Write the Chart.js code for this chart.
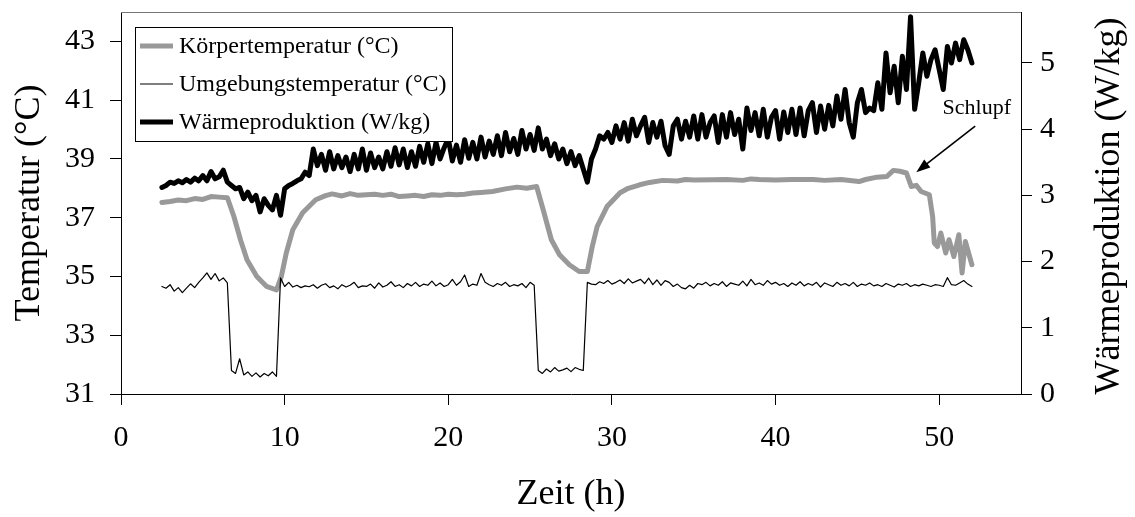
<!DOCTYPE html>
<html>
<head>
<meta charset="utf-8">
<script src="https://cdn.jsdelivr.net/npm/chart.js@4.4.0/dist/chart.umd.min.js"></script>
<style>
  html, body { margin: 0; padding: 0; background: #fff; }
  #chart { display: block; }
</style>
</head>
<body>
<canvas id="chart" width="1135" height="517"></canvas>
<script>
// sample grid of the logger: every 15 min from 2.5 h
const sampleStart = 2.5, sampleStep = 0.25;

// Wärmeproduktion (W/kg), right axis
const heatValues = [
  3.12, 3.15,
  3.20, 3.18, 3.22, 3.19,
  3.24, 3.20, 3.26, 3.22,
  3.30, 3.22, 3.36, 3.25,
  3.28, 3.38, 3.20, 3.15,
  3.10, 3.12, 2.95, 3.05,
  2.92, 3.00, 2.75, 2.95,
  2.85, 2.78, 3.00, 2.70,
  3.10, 3.15, 3.18, 3.22,
  3.25, 3.35, 3.30, 3.70,
  3.45, 3.62, 3.38, 3.66,
  3.40, 3.60, 3.42, 3.58,
  3.36, 3.62, 3.40, 3.70,
  3.38, 3.64, 3.42, 3.58,
  3.40, 3.66, 3.44, 3.72,
  3.46, 3.70, 3.42, 3.66,
  3.44, 3.74, 3.50, 3.78,
  3.48, 3.80, 3.55, 3.72,
  3.86, 3.52, 3.76, 3.50,
  3.84, 3.56, 3.80, 3.55,
  3.88, 3.58, 3.82, 3.62,
  3.90, 3.60, 3.95, 3.66,
  3.86, 3.62, 3.98, 3.70,
  3.92, 3.68, 4.02, 3.70,
  3.85, 3.60, 3.78, 3.55,
  3.70, 3.48, 3.66, 3.45,
  3.60, 3.40, 3.20, 3.55,
  3.70, 3.90, 3.85, 3.95,
  3.80, 4.05, 3.85, 4.10,
  3.82, 4.15, 3.90, 4.05,
  4.18, 3.80, 4.10, 3.88,
  4.12, 3.75, 3.62, 4.05,
  4.15, 3.85, 4.12, 3.88,
  4.20, 3.85, 4.22, 3.88,
  4.10, 4.20, 3.80, 4.22,
  3.88, 4.25, 3.92, 4.15,
  3.70, 4.32, 3.98, 4.25,
  3.90, 4.30, 3.88, 4.18,
  4.28, 3.85, 4.26, 3.95,
  4.30, 3.92, 4.32, 3.90,
  4.28, 4.40, 3.95, 4.35,
  4.00, 4.36, 4.05, 4.50,
  4.15, 4.60, 4.10, 3.88,
  4.40, 4.60, 4.25, 4.32,
  4.28, 4.70, 4.30, 5.15,
  4.55, 4.95, 4.40, 5.10,
  4.60, 5.70, 4.30, 4.70,
  5.15, 4.80, 5.05, 5.20,
  4.90, 4.60, 5.25, 5.00,
  5.30, 5.05, 5.35, 5.20,
  5.00
];

// Umgebungstemperatur (°C), same grid
const ambientValues = [
  34.66, 34.60,
  34.72, 34.50, 34.62, 34.45,
  34.60, 34.75, 34.62, 34.80,
  34.95, 35.12, 34.90, 35.10,
  34.85, 34.95, 34.78, 31.80,
  31.70, 32.20, 31.65, 31.75,
  31.60, 31.72, 31.58, 31.70,
  31.62, 31.75, 31.60, 34.95,
  34.66, 34.80, 34.64, 34.70,
  34.62, 34.68, 34.65, 34.72,
  34.60, 34.70, 34.75, 34.62,
  34.68, 34.58, 34.72, 34.64,
  34.70, 34.80, 34.62, 34.68,
  34.66, 34.74, 34.60, 34.78,
  34.64, 34.70, 34.82, 34.66,
  34.72, 34.62, 34.76, 34.68,
  34.80, 34.66, 34.74, 34.70,
  34.84, 34.68, 34.78, 34.66,
  34.72, 34.90, 34.70, 34.82,
  35.05, 34.66, 34.74, 34.70,
  35.10, 34.80, 34.72, 34.66,
  34.76, 34.70, 34.80, 34.66,
  34.72, 34.68, 34.76, 34.62,
  34.80, 34.70, 31.80, 31.70,
  31.85, 31.75, 31.90, 31.78,
  31.82, 31.88, 31.76, 31.90,
  31.84, 31.80, 34.80, 34.74,
  34.72, 34.82, 34.76, 34.86,
  34.74, 34.80, 34.88, 34.76,
  34.92, 34.78, 34.84, 34.90,
  34.76, 34.94, 34.72, 34.88,
  34.70, 34.86, 34.80, 34.66,
  34.74, 34.62, 34.58, 34.70,
  34.60, 34.76, 34.72, 34.80,
  34.68, 34.76, 34.70, 34.82,
  34.66, 34.78, 34.74, 34.70,
  34.84, 34.68, 34.90, 34.72,
  34.78, 34.70, 34.86, 34.74,
  34.80, 34.70, 34.76, 34.66,
  34.78, 34.70, 34.82, 34.68,
  34.76, 34.70, 34.80, 34.64,
  34.78, 34.72, 34.66, 34.80,
  34.70, 34.76, 34.68, 34.80,
  34.66, 34.74, 34.70, 34.78,
  34.68, 34.72, 34.66, 34.76,
  34.70, 34.64, 34.74, 34.70,
  34.76, 34.66, 34.72, 34.68,
  34.74, 34.70, 34.66, 34.72,
  34.70, 34.66, 34.96, 34.72,
  34.70, 34.78, 34.86, 34.74,
  34.66
];

// Körpertemperatur (°C)
const bodyHours = [2.5, 3, 3.5, 4, 4.5, 5, 5.5, 6, 6.5, 6.9, 7.3, 7.7, 8.3, 8.9, 9.5, 9.8, 10.1, 10.5, 11.1, 11.9,
  12.5, 12.9, 13.5, 14, 14.5, 15, 15.5, 16, 16.5, 17, 17.5, 18, 18.5, 19, 19.5, 20, 20.5, 21, 21.5, 22,
  22.7, 23.5, 24.2, 24.8, 25.4, 25.8, 26.3, 26.8, 27.4, 28.0, 28.5, 28.8, 29.1, 29.7, 30.5, 31.0, 31.7, 32.3, 33.1, 34,
  34.5, 35, 36.2, 37, 38, 38.5, 39, 40, 41, 42.3, 43, 44, 45.1, 45.5, 46.2, 46.8, 47.2, 47.6, 48.0, 48.3,
  48.6, 48.9, 49.4, 49.6, 49.7, 49.9, 50.1, 50.4, 50.6, 50.9, 51.2, 51.4, 51.6, 52.0];
const bodyTemp = [37.52, 37.55, 37.60, 37.58, 37.65, 37.62, 37.72, 37.70, 37.68, 37.04, 36.25, 35.57, 35.00, 34.66, 34.54, 35.00, 35.80, 36.59, 37.17, 37.61,
  37.75, 37.81, 37.74, 37.82, 37.76, 37.78, 37.80, 37.76, 37.80, 37.72, 37.74, 37.76, 37.72, 37.78, 37.76, 37.80, 37.78, 37.80, 37.84, 37.86,
  37.89, 37.98, 38.04, 38.00, 38.06, 37.27, 36.25, 35.74, 35.40, 35.17, 35.17, 36.02, 36.70, 37.38, 37.85, 38.00, 38.12, 38.20, 38.27, 38.25,
  38.30, 38.28, 38.29, 38.30, 38.27, 38.32, 38.30, 38.28, 38.30, 38.30, 38.27, 38.30, 38.23, 38.30, 38.38, 38.40, 38.61, 38.58, 38.52, 38.06,
  38.10, 37.89, 37.78, 37.04, 36.14, 36.02, 36.48, 35.80, 36.25, 35.68, 36.42, 35.12, 36.19, 35.40];

const seriesLabels = ["Körpertemperatur (°C)", "Umgebungstemperatur (°C)", "Wärmeproduktion (W/kg)"];
const hourTicks = [0, 10, 20, 30, 40, 50];
const tempTicks = [31, 33, 35, 37, 39, 41, 43];
const heatTicks = [0, 1, 2, 3, 4, 5];
const rightTitle = "Wärmeproduktion (W/kg)";

// annotation "Schlupf": text position and arrow in data units (h, °C)
const noteText = "Schlupf";
const noteTextAt = [52.3, 40.72];
const noteArrowFrom = [52.2, 40.12];
const noteArrowTo = [48.6, 38.55];

const serif = "'Liberation Serif', 'Times New Roman', serif";

const sampled = (vals) => vals.map((v, i) => ({ x: sampleStart + i * sampleStep, y: v }));
const bodyPoints = bodyHours.map((h, i) => ({ x: h, y: bodyTemp[i] }));

const legendBox = {
  id: "legendBox",
  afterDraw(chart) {
    const { ctx, chartArea } = chart;
    const x0 = chartArea.left + 14, y0 = chartArea.top + 15;
    const w = 317, rowH = 38;
    const sets = chart.data.datasets;
    ctx.save();
    ctx.fillStyle = "#fff";
    ctx.fillRect(x0, y0, w, rowH * sets.length);
    ctx.strokeStyle = "#000";
    ctx.lineWidth = 1;
    ctx.strokeRect(x0 + 0.5, y0 + 0.5, w, rowH * sets.length);
    sets.forEach((ds, i) => {
      const cy = y0 + 19 + rowH * i;
      ctx.beginPath();
      ctx.strokeStyle = ds.borderColor;
      ctx.lineWidth = ds.borderWidth;
      ctx.moveTo(x0 + 5, cy);
      ctx.lineTo(x0 + 38, cy);
      ctx.stroke();
      ctx.fillStyle = "#000";
      ctx.font = "24px " + serif;
      ctx.textBaseline = "middle";
      ctx.fillText(ds.label, x0 + 44, cy + 1);
    });
    ctx.restore();
  },
};

const frameAndNote = {
  id: "frameAndNote",
  beforeDatasetsDraw(chart) {
    const { ctx, chartArea } = chart;
    ctx.save();
    ctx.strokeStyle = "#777";
    ctx.lineWidth = 1;
    ctx.beginPath();
    ctx.moveTo(chartArea.left, chartArea.top + 0.5);
    ctx.lineTo(chartArea.right, chartArea.top + 0.5);
    ctx.stroke();
    ctx.restore();
  },
  afterDatasetsDraw(chart) {
    const { ctx, chartArea } = chart;
    const xs = chart.scales.x, ys = chart.scales.y;
    const tx = xs.getPixelForValue(noteTextAt[0]), ty = ys.getPixelForValue(noteTextAt[1]);
    const fx = xs.getPixelForValue(noteArrowFrom[0]), fy = ys.getPixelForValue(noteArrowFrom[1]);
    const ax = xs.getPixelForValue(noteArrowTo[0]), ay = ys.getPixelForValue(noteArrowTo[1]);
    ctx.save();
    ctx.fillStyle = "#000";
    ctx.font = "22px " + serif;
    ctx.textAlign = "center";
    ctx.textBaseline = "middle";
    ctx.fillText(noteText, tx, ty);
    const ang = Math.atan2(ay - fy, ax - fx);
    const head = 14;
    ctx.strokeStyle = "#000";
    ctx.lineWidth = 1.6;
    ctx.beginPath();
    ctx.moveTo(fx, fy);
    ctx.lineTo(ax - Math.cos(ang) * head * 0.8, ay - Math.sin(ang) * head * 0.8);
    ctx.stroke();
    ctx.beginPath();
    ctx.moveTo(ax, ay);
    ctx.lineTo(ax - head * Math.cos(ang) + 5 * Math.sin(ang), ay - head * Math.sin(ang) - 5 * Math.cos(ang));
    ctx.lineTo(ax - head * Math.cos(ang) - 5 * Math.sin(ang), ay - head * Math.sin(ang) + 5 * Math.cos(ang));
    ctx.closePath();
    ctx.fill();

    // right axis title reads bottom-to-top like the left one
    ctx.translate(1110, (chartArea.top + chartArea.bottom) / 2 + 3);
    ctx.rotate(-Math.PI / 2);
    ctx.font = "36px " + serif;
    ctx.fillText(rightTitle, 0, 0);
    ctx.restore();
  },
};

const axisGrid = { drawOnChartArea: false, color: "#000", tickLength: 11, tickWidth: 1 };
const axisBorder = { color: "#000", width: 1 };
const tickFont = { family: serif, size: 30 };
const titleFont = { family: serif, size: 36, lineHeight: 1 };

new Chart(document.getElementById("chart"), {
  type: "line",
  data: {
    datasets: [
      {
        label: seriesLabels[0],
        data: bodyPoints,
        borderColor: "#999999",
        borderWidth: 5,
        yAxisID: "y",
        order: 1,
      },
      {
        label: seriesLabels[1],
        data: sampled(ambientValues),
        borderColor: "#000000",
        borderWidth: 1.2,
        yAxisID: "y",
        order: 0,
      },
      {
        label: seriesLabels[2],
        data: sampled(heatValues),
        borderColor: "#000000",
        borderWidth: 5,
        yAxisID: "y2",
        order: 2,
      },
    ],
  },
  options: {
    responsive: false,
    animation: false,
    layout: { padding: { top: 12, left: 0, right: 0, bottom: 0 } },
    elements: {
      point: { radius: 0, hoverRadius: 0 },
      line: { tension: 0, borderJoinStyle: "round", borderCapStyle: "round" },
    },
    plugins: { legend: { display: false }, tooltip: { enabled: false } },
    scales: {
      x: {
        type: "linear",
        min: 0,
        max: 55,
        afterBuildTicks: (s) => { s.ticks = hourTicks.map((v) => ({ value: v })); },
        afterFit: (s) => { s.height = 123; s.paddingLeft = 0; s.paddingRight = 0; },
        grid: axisGrid,
        border: axisBorder,
        ticks: { color: "#000", font: tickFont, padding: 15, maxRotation: 0 },
        title: { display: true, text: "Zeit (h)", color: "#000", font: titleFont, padding: { top: 0, bottom: 4 } },
      },
      y: {
        position: "left",
        min: 31,
        max: 44,
        afterBuildTicks: (s) => { s.ticks = tempTicks.map((v) => ({ value: v })); },
        afterFit: (s) => { s.width = 121; s.paddingTop = 0; s.paddingBottom = 0; },
        grid: axisGrid,
        border: axisBorder,
        ticks: { color: "#000", font: tickFont, padding: 15 },
        title: { display: true, text: "Temperatur (°C)", color: "#000", font: titleFont, padding: { top: 12, bottom: 0 } },
      },
      y2: {
        position: "right",
        min: 0,
        max: 5.77,
        afterBuildTicks: (s) => { s.ticks = heatTicks.map((v) => ({ value: v })); },
        afterFit: (s) => { s.width = 114; s.paddingTop = 0; s.paddingBottom = 0; },
        grid: axisGrid,
        border: axisBorder,
        ticks: { color: "#000", font: tickFont, padding: 8 },
        title: { display: false },
      },
    },
  },
  plugins: [frameAndNote, legendBox],
});
</script>
</body>
</html>
